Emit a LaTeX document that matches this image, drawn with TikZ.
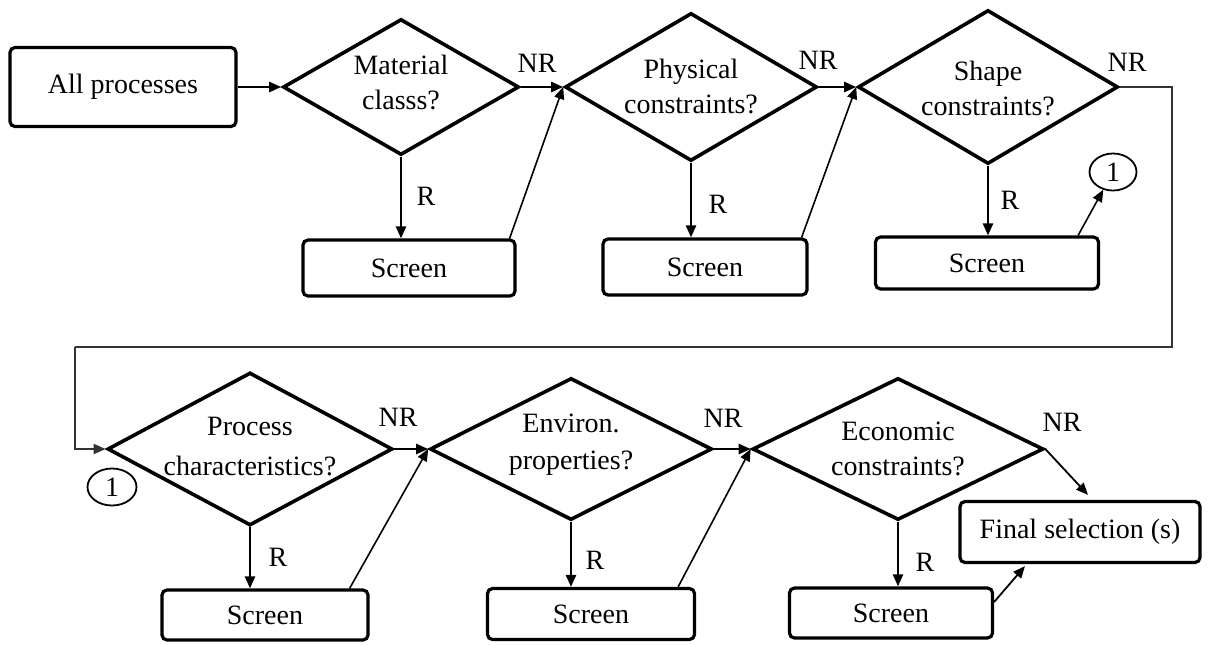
\documentclass[tikz,border=0pt]{standalone}
\usepackage{fontspec}
\setmainfont{Liberation Serif}
\usetikzlibrary{shapes.geometric,arrows.meta}

\tikzset{
  box/.style={draw, line width=1.6pt, rounded corners=2.5pt, inner sep=0pt},
  decision/.style={draw, diamond, line width=1.8pt, inner sep=0pt},
  qtext/.style={align=center, inner sep=0pt, font=\fontsize{14}{17.5}\selectfont},
  conn/.style={draw, ellipse, line width=0.9pt, inner sep=0pt},
  tip/.style={-{Triangle[length=6pt,width=5pt]}},
  flow/.style={line width=1.2pt, tip},
  back/.style={line width=0.8pt, tip},
  route/.style={line width=0.9pt, draw=black!80},
  tag/.style={inner sep=0pt}
}

\begin{document}
\begin{tikzpicture}[x=0.5pt, y=-0.5pt, font=\fontsize{14}{17.5}\selectfont]
\useasboundingbox (0,0) rectangle (1209,644);

% ---------- upper row ----------
\node[box, minimum width=113pt, minimum height=39.5pt] (ap) at (123,87) {All processes};

\node[decision, minimum width=118pt, minimum height=68pt] (d1) at (401,87) {};
\node[qtext] (d1t) at (401,82) {Material\\classs?};
\node[decision, minimum width=126pt, minimum height=74pt] (d2) at (691,87) {};
\node[qtext] (d2t) at (691,86) {Physical\\constraints?};
\node[decision, minimum width=130pt, minimum height=77pt] (d3) at (988,87) {};
\node[qtext] (d3t) at (988,88) {Shape\\constraints?};

\node[box, minimum width=106pt, minimum height=28pt] (s1) at (409,268) {Screen};
\node[box, minimum width=102pt, minimum height=28pt] (s2) at (705,267) {Screen};
\node[box, minimum width=111.5pt, minimum height=26pt] (s3) at (987,263) {Screen};

\node[conn, minimum width=23.5pt, minimum height=18.5pt] (c1) at (1113,172) {1};

% ---------- lower row ----------
\node[decision, minimum width=142.5pt, minimum height=76.5pt] (d4) at (250,449) {};
\node[qtext, font=\fontsize{14}{20}\selectfont] (d4t) at (250,447) {Process\\characteristics?};
\node[decision, minimum width=141pt, minimum height=71pt] (d5) at (571,449) {};
\node[qtext, font=\fontsize{14}{18.5}\selectfont] (d5t) at (571,445) {Environ.\\properties?};
\node[decision, minimum width=145.5pt, minimum height=71pt] (d6) at (898,449) {};
\node[qtext] (d6t) at (898,449) {Economic\\constraints?};

\node[box, minimum width=103pt, minimum height=25pt] (s4) at (265,615) {Screen};
\node[box, minimum width=103.5pt, minimum height=25.5pt] (s5) at (591,614) {Screen};
\node[box, minimum width=101.5pt, minimum height=25pt] (s6) at (891,613) {Screen};

\node[box, minimum width=120pt, minimum height=30.5pt] (fin) at (1080,532) {Final selection (s)};

\node[conn, minimum width=24.5pt, minimum height=18.5pt] (c2) at (112,487) {1};

% ---------- branch labels ----------
\node[tag] (nr1) at (537,63) {NR};
\node[tag] (nr2) at (818,60) {NR};
\node[tag] (nr3) at (1127,62) {NR};
\node[tag] (nr4) at (398,417) {NR};
\node[tag] (nr5) at (723,418) {NR};
\node[tag] (nr6) at (1062,422) {NR};

\node[tag] (r1) at (426,196) {R};
\node[tag] (r2) at (718,204) {R};
\node[tag] (r3) at (1010,200) {R};
\node[tag] (r4) at (278,557) {R};
\node[tag] (r5) at (595,560) {R};
\node[tag] (r6) at (925,562) {R};

% ---------- connectors, upper row ----------
\draw[flow] (ap.east) -- (d1.west);
\draw[flow] (d1.east) -- (d2.west);
\draw[flow] (d2.east) -- (d3.west);

\draw[flow] (d1.south) -- (d1.south |- s1.north);
\draw[flow] (d2.south) -- (d2.south |- s2.north);
\draw[flow] (d3.south) -- (d3.south |- s3.north);

\draw[back] ([xshift=-3.5pt]s1.north east) -- (d2.west);
\draw[back] ([xshift=-3.5pt]s2.north east) -- (d3.west);
\draw[back] ([xshift=-11pt]s3.north east) -- (c1);

% ---------- line to the lower row ----------
\coordinate (rt) at (1172,347);
\coordinate (lt) at (75,347);
\draw[route] (d3.east) -| (rt) -- (lt);
\draw[route, tip] (lt) |- (d4.west);

% ---------- connectors, lower row ----------
\draw[flow] (d4.east) -- (d5.west);
\draw[flow] (d5.east) -- (d6.west);

\draw[flow] (d4.south) -- (d4.south |- s4.north);
\draw[flow] (d5.south) -- (d5.south |- s5.north);
\draw[flow] (d6.south) -- (d6.south |- s6.north);

\draw[back] ([xshift=-10pt]s4.north east) -- (d5.west);
\draw[back] ([xshift=-9pt]s5.north east) -- (d6.west);

\draw[back, line width=0.9pt] (d6.east) -- ([xshift=4pt,yshift=2.5pt]fin.north);
\draw[back, line width=0.9pt] ([yshift=5.5pt]s6.east) -- ([xshift=-27.5pt,yshift=-1pt]fin.south);

\end{tikzpicture}
\end{document}
